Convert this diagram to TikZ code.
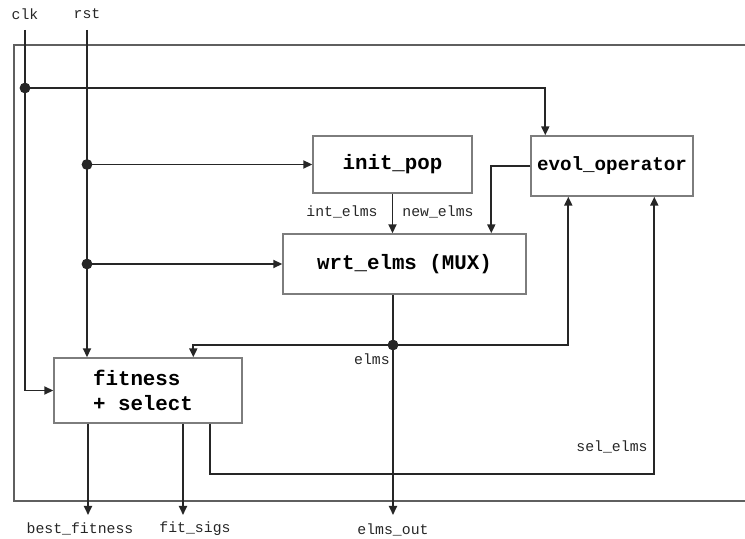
\documentclass[tikz,border=0pt]{standalone}
\usepackage{fontspec}
\setmonofont{Liberation Mono}
\usetikzlibrary{arrows.meta}
\definecolor{wirecol}{RGB}{38,38,38}
\definecolor{boxline}{RGB}{125,125,125}
\definecolor{framecol}{RGB}{95,95,95}
\tikzset{
  sig/.style={line width=0.9pt,wirecol,-{Triangle[length=4.5pt,width=4pt]}},
  frameline/.style={line width=1pt,framecol},
  block/.style={draw=boxline,line width=0.7pt,inner sep=0pt,
    font=\ttfamily\bfseries\fontsize{10.4}{12.5}\selectfont},
  tag/.style={font=\ttfamily\fontsize{7.4}{8}\selectfont,text=wirecol,inner sep=0pt},
  dot/.style={circle,fill=wirecol,inner sep=0pt,minimum size=5.4pt}
}
\begin{document}
\begin{tikzpicture}[x=0.5pt,y=-0.5pt]
  \useasboundingbox (0,0) rectangle (745,539);
  % enclosing frame, open on the right
  \draw[frameline] (745,45) -- (14,45) -- (14,501) -- (745,501);

  \node[block,minimum width=79.5pt,minimum height=28.5pt] (initpop) at (392.5,164.5) {init\_pop};
  \node[block,minimum width=81pt,minimum height=30pt,
    font=\ttfamily\bfseries\fontsize{9.6}{11}\selectfont] (evol) at (612,166) {evol\_operator};
  \node[block,minimum width=121.5pt,minimum height=30pt] (wrt) at (404.5,264) {wrt\_elms (MUX)};
  \node[block,minimum width=94pt,minimum height=32.5pt,align=left] (fitness) at (148,390.5)
    {fitness\\+ select\hspace*{5pt}};

  \coordinate (clk) at (25,30);
  \coordinate (rst) at (87,30);
  \coordinate (bestout) at (88,515);
  \coordinate (sigout) at (183,515);
  \coordinate (elmsout) at (393,515);

  \node[tag] (clklbl) at (25,14) {clk};
  \node[tag] (rstlbl) at (87,14) {rst};
  \node[tag] (intlbl) at (342,212) {int\_elms};
  \node[tag] (newlbl) at (438,212) {new\_elms};
  \node[tag] (elmslbl) at (372,359) {elms};
  \node[tag] (sellbl) at (612,447) {sel\_elms};
  \node[tag] (bestlbl) at (80,529) {best\_fitness};
  \node[tag] (siglbl) at (195,529) {fit\_sigs};
  \node[tag] (outlbl) at (393,530) {elms\_out};

  % clock
  \node[dot] (cdot) at (25,88) {};
  \draw[sig] (clk) |- (fitness.west);
  \draw[sig] (cdot.center) -| ([xshift=7.5pt]evol.north west);

  % reset
  \node[dot] (rdot1) at (rst |- initpop.west) {};
  \node[dot] (rdot2) at (rst |- wrt.west) {};
  \draw[sig] (rst) -- (rst |- fitness.north);
  \draw[sig] (rdot1.center) -- (initpop.west);
  \draw[sig] (rdot2.center) -- (wrt.west);

  % element paths
  \draw[sig] (initpop.south) -- (initpop.south |- wrt.north);
  \draw[sig] (evol.west) -| ([xshift=104.5pt]wrt.north west);
  \node[dot] (edot) at (393,345) {};
  \draw[sig] (edot |- wrt.south) -- (elmsout);
  \draw[sig] (edot.center) -| ([xshift=70pt]fitness.north west);
  \draw[sig] (edot.center) -| ([xshift=19pt]evol.south west);
  \draw[sig] ([xshift=78.5pt]fitness.south west) -- ++(0,50) -| ([xshift=62pt]evol.south west);

  % outputs
  \draw[sig] (bestout |- fitness.south) -- (bestout);
  \draw[sig] (sigout |- fitness.south) -- (sigout);
\end{tikzpicture}
\end{document}
